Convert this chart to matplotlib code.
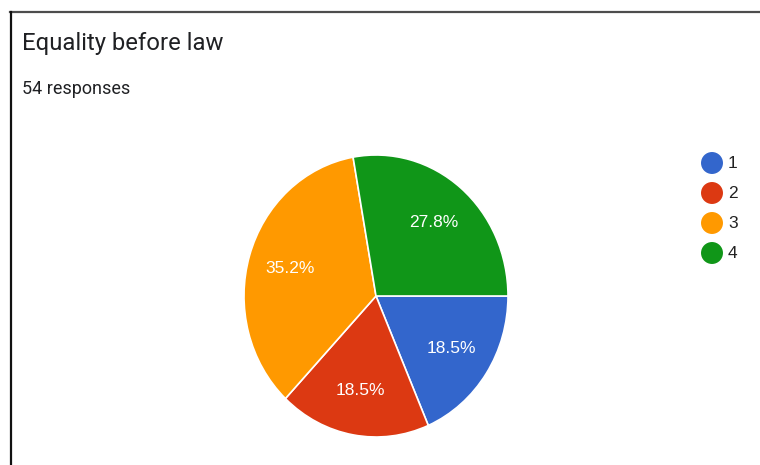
import matplotlib.pyplot as plt
from matplotlib.lines import Line2D

# survey answers for "Equality before law"
options = ['1', '2', '3', '4']
counts = [10, 10, 19, 15]
colors = ['#3366cc', '#dc3912', '#ff9900', '#109618']
title = 'Equality before law'
subtitle = f'{sum(counts)} responses'

plt.rcParams['font.family'] = ['Roboto', 'DejaVu Sans']
chart_font = ['Liberation Sans', 'DejaVu Sans']

W, H = 760, 465
fig = plt.figure(figsize=(W / 100, H / 100), dpi=100)
fig.patch.set_facecolor('white')


def fx(px):
    return px / W


def fy(py):
    return 1 - py / H


# card border, top and left edges only
fig.add_artist(Line2D([fx(10), fx(W)], [fy(12.5), fy(12.5)], color='#4d4d4d', lw=1.6))
fig.add_artist(Line2D([fx(11), fx(11)], [fy(12), fy(H)], color='#111111', lw=1.6))

fig.text(fx(22), fy(50), title, fontsize=17.2, color='#202124', va='baseline')
fig.text(fx(22), fy(94), subtitle, fontsize=13, color='#202124', va='baseline')

# pie, starting at 3 o'clock and going clockwise
cx, cy, rx, ry = 376, 296, 132, 141
ax = fig.add_axes([fx(cx - rx), fy(cy + ry), 2 * rx / W, 2 * ry / H])
wedges, texts, autotexts = ax.pie(
    counts, colors=colors, startangle=0, counterclock=False,
    autopct='%1.1f%%', pctdistance=0.68,
    wedgeprops=dict(edgecolor='white', linewidth=1.2),
    textprops=dict(color='white', fontsize=12.5, family=chart_font))
ax.set_aspect('auto')
ax.set_xlim(-1, 1)
ax.set_ylim(-1, 1)

# legend
lax = fig.add_axes([0, 0, 1, 1])
lax.set_xlim(0, W)
lax.set_ylim(H, 0)
lax.axis('off')
for i, (name, c) in enumerate(zip(options, colors)):
    y = 163 + 30 * i
    lax.scatter([712], [y], s=250, color=c, edgecolors='none')
    lax.text(728, y, name, fontsize=12.5, color='#222222', va='center',
             family=chart_font)

fig.savefig('out.png', dpi=100)
